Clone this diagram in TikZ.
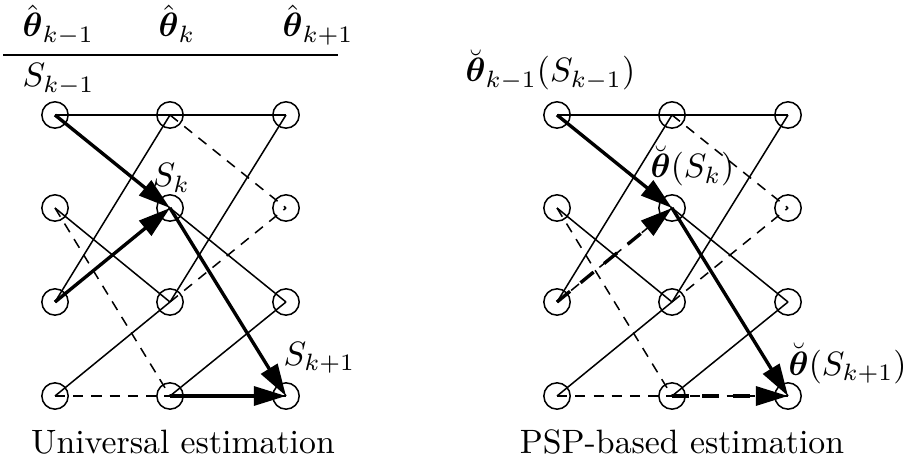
\documentclass[tikz,border=0pt]{standalone}
\usepackage{amsmath}
\usepackage{amssymb}
\usetikzlibrary{arrows.meta}

\begin{document}
\begin{tikzpicture}[
    x=0.296pt, y=-0.296pt,
    state/.style={draw, circle, minimum size=7.8pt, inner sep=0pt, line width=0.45pt},
    trans/.style={line width=0.45pt},
    alt/.style={trans, dash pattern=on 3pt off 2.4pt},
    survivor/.style={line width=1pt, -{Triangle[length=9.5pt, width=5.6pt]}},
    survdash/.style={survivor, dash pattern=on 5pt off 4pt},
    lbl/.style={anchor=base west, inner sep=0pt}
]
\useasboundingbox (0,0) rectangle (903,466);

% states of both trellises
\foreach \c/\x in {0/55,1/170,2/286}
  \foreach \r/\y in {0/115,1/208,2/302,3/396} {
    \node[state] (u\c-\r) at (\x,\y) {};
    \node[state] (p\c-\r) at (\x+502,\y) {};
  }

% branches
\foreach \t in {u,p}
  \foreach \a/\b in {0/1,1/2} {
    \foreach \i/\j in {0/0,1/2,2/0,3/2}
      \draw[trans] (\t\a-\i.center) -- (\t\b-\j.center);
    \foreach \i/\j in {0/1,1/3,2/1,3/3}
      \draw[alt] (\t\a-\i.center) -- (\t\b-\j.center);
  }

% header of the left trellis
\node[lbl] (th0) at (22,37) {$\hat{\boldsymbol{\theta}}_{k-1}$};
\node[lbl] (th1) at (158,37) {$\hat{\boldsymbol{\theta}}_{k}$};
\node[lbl] (th2) at (282,37) {$\hat{\boldsymbol{\theta}}_{k+1}$};
\draw[line width=0.5pt] (3,55) -- (338,55);

% universal estimation
\node[lbl] (s0) at (22,87) {$S_{k-1}$};
\node[lbl] (s1) at (152,187) {$S_k$};
\node[lbl] (s2) at (283,365) {$S_{k+1}$};
\draw[survivor] (u0-0.center) -- (u1-1.center);
\draw[survivor] (u0-2.center) -- (u1-1.center);
\draw[survivor] (u1-1.center) -- (u2-3.center);
\draw[survivor] (u1-3.center) -- (u2-3.center);

% PSP-based estimation
\node[lbl] (b0) at (465,82) {$\breve{\boldsymbol{\theta}}_{k-1}(S_{k-1})$};
\node[lbl] (b1) at (650,178) {$\breve{\boldsymbol{\theta}}(S_k)$};
\node[lbl] (b2) at (788,375) {$\breve{\boldsymbol{\theta}}(S_{k+1})$};
\draw[survivor] (p0-0.center) -- (p1-1.center);
\draw[survdash] (p0-2.center) -- (p1-1.center);
\draw[survivor] (p1-1.center) -- (p2-3.center);
\draw[survdash] (p1-3.center) -- (p2-3.center);

% captions
\node[anchor=base, inner sep=0pt] (cap1) at (183,453) {Universal estimation};
\node[anchor=base, inner sep=0pt] (cap2) at (682,453) {PSP-based estimation};

\end{tikzpicture}
\end{document}
